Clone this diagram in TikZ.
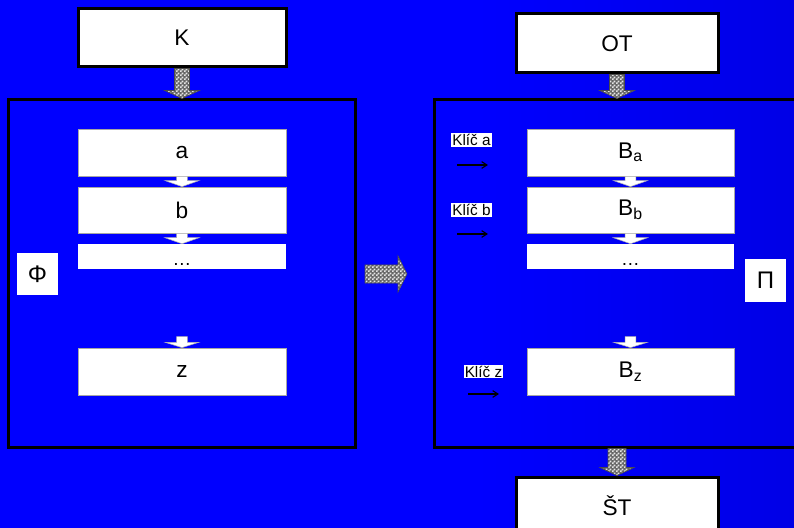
\documentclass[tikz,border=0pt]{standalone}
\usepackage{fontspec}
\setmainfont{Liberation Sans}
\usetikzlibrary{calc,patterns,arrows.meta}
\pgfdeclarehorizontalshading{bgshade}{100bp}{color(0bp)=(blue); color(55bp)=(blue); color(100bp)=(blue!78!black)}
\pgfdeclarepatternformonly{finecheck}{\pgfpointorigin}{\pgfpoint{3pt}{3pt}}{\pgfpoint{3pt}{3pt}}{%
  \pgfpathrectangle{\pgfpointorigin}{\pgfpoint{1.5pt}{1.5pt}}%
  \pgfpathrectangle{\pgfpoint{1.5pt}{1.5pt}}{\pgfpoint{1.5pt}{1.5pt}}%
  \pgfusepath{fill}}
\newcommand{\blockdown}[6]{%
  \draw[#6] let \p1=(#1), \p2=(#2) in
    (\x1-#3,\y1) -- (\x1-#3,\y2+#5) -- (\x1-#4,\y2+#5) -- (\x1,\y2) --
    (\x1+#4,\y2+#5) -- (\x1+#3,\y2+#5) -- (\x1+#3,\y1) -- cycle;}
\newcommand{\blockright}[6]{%
  \draw[#6] let \p1=(#1), \p2=(#2) in
    (\x1,\y1-#3) -- (\x2-#5,\y1-#3) -- (\x2-#5,\y1-#4) -- (\x2,\y1) --
    (\x2-#5,\y1+#4) -- (\x2-#5,\y1+#3) -- (\x1,\y1+#3) -- cycle;}
\tikzset{
  outerbox/.style={draw=black, line width=2.25pt, fill=white, inner sep=0pt, font=\fontsize{17}{20}\selectfont},
  bigframe/.style={draw=black, line width=2.25pt, inner sep=0pt},
  stagebox/.style={fill=white, draw=gray!70, line width=0.6pt, inner sep=0pt, minimum width=156pt, minimum height=35.25pt, font=\fontsize{17}{20}\selectfont},
  dotsbox/.style={fill=white, inner sep=0pt, minimum width=156pt, minimum height=18.75pt, text height=13pt, text depth=0pt, font=\fontsize{14}{16}\selectfont},
  letterbox/.style={fill=white, inner sep=0pt, minimum width=30.75pt, minimum height=31.5pt, font=\fontsize{18}{20}\selectfont},
  keylabel/.style={fill=white, inner sep=0.8pt, font=\fontsize{11.5}{13}\selectfont},
  keyarrow/.style={-{Straight Barb[length=4pt,width=5pt]}, line width=0.8pt, black},
  checkarrow/.style={pattern=finecheck, pattern color=gray!20, draw=black!70, line width=0.5pt},
  checkfill/.style={fill=black!60, draw=none},
  whitearrow/.style={fill=white, draw=gray!60, line width=0.4pt}
}
\begin{document}
\begin{tikzpicture}[x=0.75pt, y=-0.75pt]
\useasboundingbox (0,0) rectangle (794,528);
\shade[shading=bgshade] (0,0) rectangle (794,528);

% left part
\node[outerbox, minimum width=156pt, minimum height=43.5pt] (K) at (182,38) {K};
\node[bigframe, minimum width=260.25pt, minimum height=260.25pt] (phi) at (181.5,273.5) {};
\node[stagebox] (a) at (182,152.5) {a};
\node[stagebox, minimum height=34.5pt] (b) at (182,210) {b};
\node[dotsbox] (dl) at (182,256.5) {\dots};
\node[stagebox] (z) at (182,371.5) {z};
\node[letterbox] (phil) at (37.5,274) {Φ};

% right part
\node[outerbox, minimum width=151.5pt, minimum height=44.25pt] (OT) at (617,43.5) {OT};
\node[bigframe, minimum width=274.5pt, minimum height=260.25pt] (pi) at (617,273.5) {};
\node[stagebox, minimum width=155.25pt] (Ba) at (630.5,152.5) {B\textsubscript{a}};
\node[stagebox, minimum width=155.25pt, minimum height=34.5pt] (Bb) at (630.5,210) {B\textsubscript{b}};
\node[dotsbox, minimum width=155.25pt] (dr) at (630.5,256.5) {\dots};
\node[stagebox, minimum width=155.25pt] (Bz) at (630.5,371.5) {B\textsubscript{z}};
\node[letterbox] (pil) at (765.5,280.5) {Π};
\node[outerbox, minimum width=151.5pt, minimum height=43.5pt] (ST) at (617,506) {ŠT};

% keys
\node[keylabel] (ka) at (471.5,140) {Klíč a};
\node[keylabel] (kb) at (471.5,210) {Klíč b};
\node[keylabel] (kz) at (483.5,371.5) {Klíč z};
\coordinate (kas) at (457,165); \coordinate (kae) at (488,165);
\coordinate (kbs) at (457,234); \coordinate (kbe) at (488,234);
\coordinate (kzs) at (468,394); \coordinate (kze) at (499,394);
\draw[keyarrow] (kas) -- (kae);
\draw[keyarrow] (kbs) -- (kbe);
\draw[keyarrow] (kzs) -- (kze);

% checkered block arrows
\blockdown{K.south}{phi.north}{5.6pt}{13pt}{6pt}{checkfill}
\blockdown{K.south}{phi.north}{5.6pt}{13pt}{6pt}{checkarrow}
\blockdown{OT.south}{pi.north}{5.6pt}{13pt}{6pt}{checkfill}
\blockdown{OT.south}{pi.north}{5.6pt}{13pt}{6pt}{checkarrow}
\blockdown{pi.south}{ST.north}{6.75pt}{12.75pt}{6pt}{checkfill}
\blockdown{pi.south}{ST.north}{6.75pt}{12.75pt}{6pt}{checkarrow}
\coordinate (hs) at (365,274);
\coordinate (he) at (407,274);
\blockright{hs}{he}{6.75pt}{13.5pt}{6.75pt}{checkfill}
\blockright{hs}{he}{6.75pt}{13.5pt}{6.75pt}{checkarrow}

% white small arrows (left)
\blockdown{a.south}{b.north}{4pt}{12.75pt}{4.5pt}{whitearrow}
\blockdown{b.south}{dl.north}{4pt}{12.75pt}{4.5pt}{whitearrow}
\coordinate (zin) at ($(z.north)+(0,-11)$);
\blockdown{zin}{z.north}{4pt}{12.75pt}{4pt}{whitearrow}
% white small arrows (right)
\blockdown{Ba.south}{Bb.north}{4pt}{12.75pt}{4.5pt}{whitearrow}
\blockdown{Bb.south}{dr.north}{4pt}{12.75pt}{4.5pt}{whitearrow}
\coordinate (bzin) at ($(Bz.north)+(0,-11)$);
\blockdown{bzin}{Bz.north}{4pt}{12.75pt}{4pt}{whitearrow}
\end{tikzpicture}
\end{document}
